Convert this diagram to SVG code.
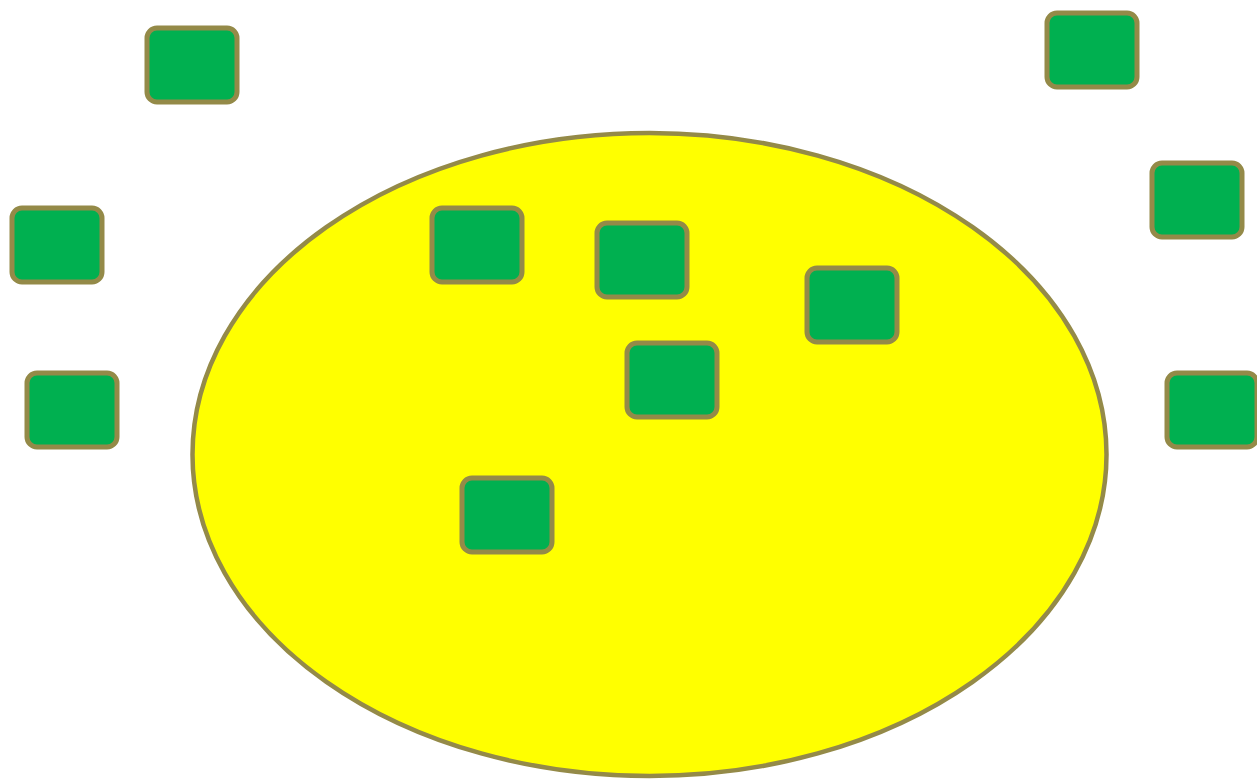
<svg xmlns="http://www.w3.org/2000/svg" width="1257" height="779" viewBox="0 0 1257 779">
<style>
.n{fill:#00B050;stroke:#948A48;stroke-width:5}
</style>
<rect width="1257" height="779" fill="#FFFFFF"/>
<g id="region"><ellipse cx="649.5" cy="454.5" rx="457" ry="321.5" fill="#FFFF00" stroke="#948A48" stroke-width="4.5"/></g>
<g id="connectors"></g>
<g id="n1"><rect class="n" x="147" y="28" width="90" height="74" rx="10"/></g>
<g id="n2"><rect class="n" x="1047" y="13" width="90" height="74" rx="10"/></g>
<g id="n3"><rect class="n" x="12" y="208" width="90" height="74" rx="10"/></g>
<g id="n4"><rect class="n" x="432" y="208" width="90" height="74" rx="10"/></g>
<g id="n5"><rect class="n" x="597" y="223" width="90" height="74" rx="10"/></g>
<g id="n6"><rect class="n" x="1152" y="163" width="90" height="74" rx="10"/></g>
<g id="n7"><rect class="n" x="807" y="268" width="90" height="74" rx="10"/></g>
<g id="n8"><rect class="n" x="627" y="343" width="90" height="74" rx="10"/></g>
<g id="n9"><rect class="n" x="27" y="373" width="90" height="74" rx="10"/></g>
<g id="n10"><rect class="n" x="1167" y="373" width="90" height="74" rx="10"/></g>
<g id="n11"><rect class="n" x="462" y="478" width="90" height="74" rx="10"/></g>
</svg>
